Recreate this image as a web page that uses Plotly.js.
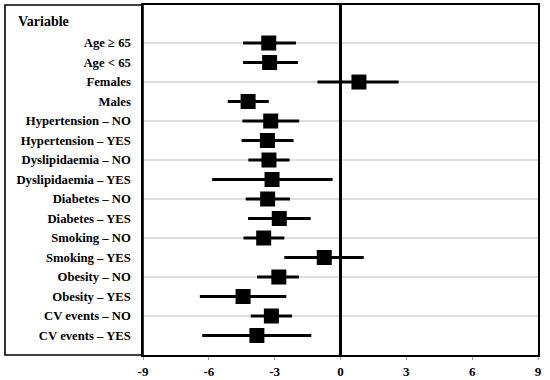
<!DOCTYPE html>
<html>
<head>
<meta charset="utf-8">
<script src="https://cdn.plot.ly/plotly-3.0.1.min.js"></script>
<style>html,body{margin:0;padding:0;background:#fff;}#chart{width:550px;height:380px;}</style>
</head>
<body>
<div id="chart"></div>
<script>
var categories = ["Age \u2265 65", "Age < 65", "Females", "Males",
  "Hypertension \u2013 NO", "Hypertension \u2013 YES",
  "Dyslipidaemia \u2013 NO", "Dyslipidaemia \u2013 YES",
  "Diabetes \u2013 NO", "Diabetes \u2013 YES",
  "Smoking \u2013 NO", "Smoking \u2013 YES",
  "Obesity \u2013 NO", "Obesity \u2013 YES",
  "CV events \u2013 NO", "CV events \u2013 YES"];
var estimate = [-3.27, -3.23, 0.84, -4.21, -3.18, -3.33, -3.26, -3.12, -3.32, -2.79, -3.50, -0.74, -2.81, -4.44, -3.15, -3.81];
var ciLow   = [-4.44, -4.44, -1.05, -5.14, -4.47, -4.51, -4.20, -5.85, -4.32, -4.21, -4.42, -2.56, -3.80, -6.41, -4.09, -6.30];
var ciHigh  = [-2.03, -1.94, 2.65, -3.27, -1.88, -2.14, -2.32, -0.36, -2.30, -1.36, -2.56, 1.06, -1.89, -2.47, -2.21, -1.33];
var xTickVals = [-9, -6, -3, 0, 3, 6, 9];
var xTickText = ["-9", "-6", "-3", "0", "3", "6", "9"];
var headerText = "Variable";

var rows = categories.map(function(c, i){ return i + 1; });
var plusErr = estimate.map(function(v, i){ return ciHigh[i] - v; });
var minusErr = estimate.map(function(v, i){ return v - ciLow[i]; });
var gridRows = rows.filter(function(r){ return r % 2 === 1; });

var serif = "'Liberation Serif', 'Times New Roman', serif";

var trace = {
  type: "scatter", mode: "markers",
  x: estimate, y: rows,
  marker: {symbol: "square", size: 15, color: "#000"},
  error_x: {type: "data", symmetric: false, array: plusErr, arrayminus: minusErr,
            thickness: 3, width: 0, color: "#000"},
  hoverinfo: "skip", showlegend: false, cliponaxis: false
};

var shapes = gridRows.map(function(r){
  return {type: "line", xref: "x", yref: "y", x0: -9, x1: 9, y0: r, y1: r,
          line: {color: "#bdbdbd", width: 1}, layer: "below"};
});
shapes.push({type: "rect", xref: "paper", yref: "paper", x0: -0.3494, x1: 0, y0: 0, y1: 1,
             line: {color: "#000", width: 1.6}, fillcolor: "rgba(0,0,0,0)", layer: "above"});

var layout = {
  width: 550, height: 380,
  margin: {l: 143, r: 12, t: 5, b: 25},
  paper_bgcolor: "#fff", plot_bgcolor: "#fff",
  font: {family: serif, color: "#000"},
  xaxis: {range: [-9, 9], tickvals: xTickVals, ticktext: xTickText,
          showgrid: false, zeroline: true, zerolinecolor: "#000", zerolinewidth: 3.5,
          showline: true, linecolor: "#000", linewidth: 1.6, mirror: true,
          ticks: "outside", ticklen: 3, tickcolor: "#999", tickwidth: 1,
          ticklabelstandoff: 1,
          tickfont: {family: serif, size: 13, weight: "bold", color: "#000"}},
  yaxis: {range: [17, -0.95], tickvals: rows, ticktext: categories,
          showgrid: false, zeroline: false,
          showline: true, linecolor: "#000", linewidth: 1.6, mirror: true,
          ticks: "", ticklabelstandoff: 8,
          tickfont: {family: serif, size: 12.7, weight: "bold", color: "#000"}},
  shapes: shapes,
  annotations: [{text: headerText, xref: "paper", yref: "y", x: -0.322, y: -0.1,
                 xanchor: "left", yanchor: "middle", showarrow: false,
                 font: {family: serif, size: 14, weight: "bold", color: "#000"}}]
};

Plotly.newPlot("chart", [trace], layout, {displayModeBar: false, staticPlot: true});
</script>
</body>
</html>
